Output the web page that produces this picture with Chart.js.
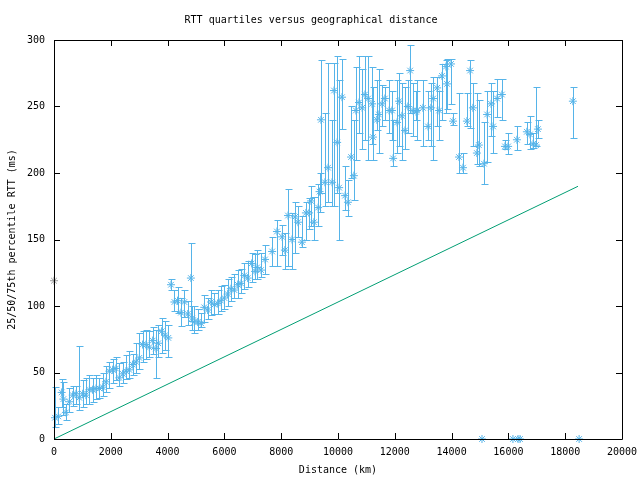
<!DOCTYPE html>
<html>
<head>
<meta charset="utf-8">
<title>RTT quartiles versus geographical distance</title>
<script src="https://cdn.jsdelivr.net/npm/chart.js@4/dist/chart.umd.min.js"></script>
<style>
  html, body { margin: 0; padding: 0; background: #fff; }
  #wrap { position: relative; width: 640px; height: 480px; }
</style>
</head>
<body>
<div id="wrap"><canvas id="chart"></canvas></div>
<script>
// distance (km), median RTT and the 25th / 75th percentiles (ms)
const distKm = [
  35, 150, 270, 330, 420, 540, 660, 775, 890, 1010,
  1125, 1245, 1360, 1480, 1600, 1715, 1830, 1950, 2065, 2180,
  2300, 2420, 2535, 2650, 2770, 2890, 3005, 3120, 3240, 3355,
  3475, 3590, 3670, 3790, 3910, 4025, 4120, 4240, 4350, 4470,
  4590, 4710, 4820, 4870, 4940, 5060, 5180, 5290, 5410, 5530,
  5645, 5765, 5880, 6000, 6115, 6230, 6350, 6470, 6585, 6700,
  6820, 6960, 7080, 7150, 7290, 7430, 7680, 7850, 8030, 8130,
  8240, 8380, 8490, 8590, 8730, 8870, 8980, 9050, 9150, 9300,
  9350, 9400, 9540, 9650, 9790, 9860, 9970, 10040, 10140, 10250,
  10350, 10460, 10560, 10630, 10740, 10850, 10950, 11060, 11200, 11230,
  11370, 11440, 11550, 11650, 11800, 11900, 11940, 12080, 12150, 12250,
  12360, 12460, 12540, 12640, 12750, 12780, 12990, 13170, 13270, 13350,
  13490, 13560, 13660, 13800, 13840, 13980, 14050, 14260, 14400, 14540,
  14650, 14750, 14890, 14960, 15070, 15140, 15250, 15390, 15460, 15600,
  15770, 15880, 15990, 16160, 16300, 16340, 16410, 16650, 16760, 16870,
  16970, 17040, 18270, 18490
];
const medianMs = [
  16, 17, 35, 30, 20, 28, 33, 34, 31, 34,
  33, 37, 37, 38, 38, 39, 43, 51, 52, 53,
  46, 49, 51, 52, 56, 58, 61, 71, 71, 69,
  74, 68, 72, 81, 78, 76, 116, 103, 104, 95,
  103, 94, 121, 91, 88, 88, 87, 99, 97, 103,
  101, 102, 104, 106, 109, 113, 112, 116, 117, 123,
  121, 132, 126, 129, 127, 135, 141, 156, 152, 142,
  168, 150, 167, 163, 148, 170, 170, 179, 163, 174,
  186, 240, 193, 204, 193, 262, 223, 189, 257, 183,
  178, 212, 198, 247, 253, 249, 259, 256, 252, 227,
  240, 244, 252, 256, 247, 247, 211, 238, 254, 243,
  232, 250, 277, 247, 246, 247, 249, 235, 249, 256,
  264, 247, 273, 280, 267, 282, 239, 212, 204, 239,
  277, 249, 215, 221, 0, 207, 244, 252, 235, 256,
  259, 220, 220, 0, 225, 0, 0, 231, 229, 222,
  221, 233, 254, 0
];
const q25Ms = [
  9, 11, 24, 18, 14, 20, 25, 26, 22, 24,
  26, 26, 28, 30, 31, 32, 35, 38, 42, 44,
  40, 42, 45, 46, 48, 50, 53, 58, 60, 62,
  64, 46, 62, 65, 67, 62, 112, 96, 95, 85,
  92, 86, 89, 82, 80, 82, 84, 88, 90, 93,
  94, 94, 96, 98, 100, 104, 106, 106, 110, 113,
  114, 118, 120, 120, 122, 124, 130, 130, 138, 128,
  130, 128, 140, 152, 144, 150, 158, 160, 150, 160,
  171, 185, 175, 178, 175, 175, 185, 150, 233, 172,
  168, 196, 180, 210, 230, 218, 225, 210, 222, 210,
  232, 215, 235, 240, 230, 225, 205, 215, 220, 210,
  218, 230, 245, 228, 240, 225, 220, 225, 220, 210,
  235, 225, 240, 245, 248, 252, 236, 200, 200, 235,
  234, 220, 207, 205, 0, 192, 208, 228, 215, 242,
  240, 218, 214, 0, 217, 0, 0, 222, 218, 219,
  220, 226, 226, 0
];
const q75Ms = [
  39, 24, 45, 43, 26, 38, 40, 40, 70, 44,
  46, 48, 46, 48, 46, 50, 55, 58, 60, 62,
  57, 58, 63, 66, 64, 72, 80, 81, 82, 81,
  84, 82, 86, 91, 89, 86, 120, 112, 114, 106,
  112, 104, 147, 100, 100, 98, 95, 108, 106, 112,
  110, 112, 115, 116, 120, 122, 124, 127, 128, 132,
  134, 140, 139, 142, 140, 146, 152, 165, 161, 155,
  188, 170, 178, 175, 168, 178, 181, 190, 182, 192,
  200, 285, 245, 283, 240, 283, 288, 270, 286, 205,
  195, 250, 240, 280, 288, 278, 288, 288, 280, 265,
  270, 278, 266, 265, 270, 262, 240, 270, 275, 268,
  265, 270, 296, 268, 262, 270, 270, 262, 268, 272,
  272, 262, 282, 285, 286, 286, 245, 260, 215, 260,
  285, 268, 260, 255, 0, 238, 262, 268, 262, 271,
  271, 225, 230, 0, 235, 0, 0, 238, 243, 230,
  265, 240, 265, 0
];

// lone grey point on the left border
const outlierDist = [0];
const outlierMs = [119];

// green reference line
const lineDist = [0, 18450];
const lineMs = [0, 190];

const xTicks = [0, 2000, 4000, 6000, 8000, 10000, 12000, 14000, 16000, 18000, 20000];
const yTicks = [0, 50, 100, 150, 200, 250, 300];

const blue = '#56b4e9';
const green = '#009e73';
const font = { family: "'DejaVu Sans Mono', monospace", size: 10 };

// draws the quartile bars with small caps
const errorBars = {
  id: 'errorBars',
  afterDatasetsDraw(chart) {
    const { ctx, scales: { x, y } } = chart;
    ctx.save();
    ctx.strokeStyle = blue;
    ctx.lineWidth = 1;
    ctx.beginPath();
    for (let i = 0; i < distKm.length; i++) {
      if (q25Ms[i] === q75Ms[i]) continue;
      const px = Math.round(x.getPixelForValue(distKm[i])) + 0.5;
      const top = Math.round(y.getPixelForValue(q75Ms[i])) + 0.5;
      const bot = Math.round(y.getPixelForValue(q25Ms[i])) + 0.5;
      ctx.moveTo(px, top); ctx.lineTo(px, bot);
      ctx.moveTo(px - 3, top); ctx.lineTo(px + 4, top);
      ctx.moveTo(px - 3, bot); ctx.lineTo(px + 4, bot);
    }
    ctx.stroke();
    ctx.restore();
  }
};

// gnuplot style frame with inward ticks on all four sides
const frame = {
  id: 'frame',
  afterDraw(chart) {
    const { ctx, chartArea: { left, right, top, bottom }, scales: { x, y } } = chart;
    ctx.save();
    ctx.strokeStyle = '#000';
    ctx.lineWidth = 1;
    ctx.beginPath();
    ctx.rect(left + 0.5, top + 0.5, right - left, bottom - top);
    xTicks.forEach(v => {
      const px = Math.round(x.getPixelForValue(v)) + 0.5;
      ctx.moveTo(px, bottom); ctx.lineTo(px, bottom - 6);
      ctx.moveTo(px, top); ctx.lineTo(px, top + 6);
    });
    yTicks.forEach(v => {
      const py = Math.round(y.getPixelForValue(v)) + 0.5;
      ctx.moveTo(left, py); ctx.lineTo(left + 6, py);
      ctx.moveTo(right, py); ctx.lineTo(right - 6, py);
    });
    ctx.stroke();
    ctx.restore();
  }
};

new Chart(document.getElementById('chart'), {
  type: 'scatter',
  data: {
    datasets: [
      {
        label: 'reference',
        type: 'line',
        data: lineDist.map((d, i) => ({ x: d, y: lineMs[i] })),
        borderColor: green,
        borderWidth: 1,
        pointRadius: 0,
        fill: false
      },
      {
        label: 'median',
        data: distKm.map((d, i) => ({ x: d, y: medianMs[i] })),
        pointStyle: 'star',
        pointRadius: 4,
        borderColor: blue,
        backgroundColor: blue,
        borderWidth: 1,
        clip: false
      },
      {
        label: 'outlier',
        data: outlierDist.map((d, i) => ({ x: d, y: outlierMs[i] })),
        pointStyle: 'star',
        pointRadius: 4,
        borderColor: '#9a9a9a',
        backgroundColor: '#9a9a9a',
        borderWidth: 1,
        clip: false
      }
    ]
  },
  options: {
    responsive: true,
    maintainAspectRatio: false,
    animation: false,
    layout: { padding: { left: 0, right: 18, top: 0, bottom: 0 } },
    plugins: {
      legend: { display: false },
      tooltip: { enabled: false },
      title: {
        display: true,
        text: 'RTT quartiles versus geographical distance',
        color: '#000',
        font: { ...font, weight: 'normal' },
        padding: { top: 14, bottom: 14 }
      }
    },
    scales: {
      x: {
        type: 'linear',
        min: 0,
        max: 20000,
        afterFit: s => { s.height = 41; s.paddingLeft = 0; s.paddingRight = 0; },
        afterBuildTicks: s => { s.ticks = xTicks.map(v => ({ value: v })); },
        grid: { display: false, drawTicks: false },
        border: { display: false },
        ticks: { color: '#000', font, padding: 7, maxRotation: 0, autoSkip: false, callback: v => String(v) },
        title: { display: true, text: 'Distance (km)', color: '#000', font, padding: { top: 0, bottom: 4 } }
      },
      y: {
        min: 0,
        max: 300,
        afterFit: s => { s.width = 54; s.paddingTop = 0; s.paddingBottom = 0; },
        afterBuildTicks: s => { s.ticks = yTicks.map(v => ({ value: v })); },
        grid: { display: false, drawTicks: false },
        border: { display: false },
        ticks: { color: '#000', font, padding: 9, callback: v => String(v) },
        title: { display: true, text: '25/50/75th percentile RTT (ms)', color: '#000', font, padding: { top: 6, bottom: 0 } }
      }
    }
  },
  plugins: [errorBars, frame]
});
</script>
</body>
</html>
